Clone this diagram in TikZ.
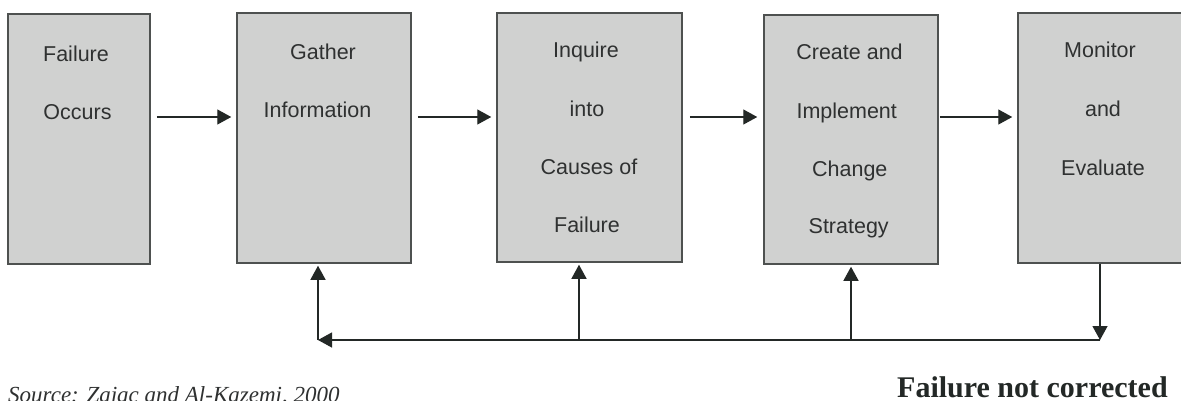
\documentclass[tikz,border=0pt]{standalone}
\usepackage{fontspec}
\setmainfont{Liberation Serif}
\setsansfont{Liberation Sans}
\usetikzlibrary{arrows.meta}
\definecolor{boxfill}{HTML}{D0D1D0}
\definecolor{boxline}{HTML}{4E5150}
\definecolor{txt}{HTML}{2F3131}
\definecolor{arrowc}{HTML}{232826}
\tikzset{
  stagebox/.style={draw=boxline, line width=1.5pt, fill=boxfill, rectangle, inner sep=0pt},
  lbl/.style={anchor=base, inner sep=0pt, text=txt, font=\sffamily\fontsize{21.5}{24}\selectfont},
  arr/.style={draw=arrowc, line width=1.3pt, -{Triangle[length=14pt,width=15pt]}},
}
\begin{document}
\begin{tikzpicture}[x=1pt,y=-1pt]
\clip (0,0) rectangle (1181,400);
\fill[white] (0,0) rectangle (1181,400);
% boxes
\node[stagebox, minimum width=142pt, minimum height=250pt] (b1) at (79,139) {};
\node[stagebox, minimum width=174pt, minimum height=250pt] (b2) at (324,138) {};
\node[stagebox, minimum width=185pt, minimum height=249pt] (b3) at (589.5,137.5) {};
\node[stagebox, minimum width=174pt, minimum height=249pt] (b4) at (851,139.5) {};
\node[stagebox, minimum width=168pt, minimum height=250pt] (b5) at (1102,138) {};
% labels
\node[lbl] (t1a) at (76,61) {Failure};
\node[lbl] (t1b) at (77.5,119) {Occurs};
\node[lbl] (t2a) at (323,59) {Gather};
\node[lbl] (t2b) at (317.5,117) {Information};
\node[lbl] (t3a) at (586,57) {Inquire};
\node[lbl] (t3b) at (587,116) {into};
\node[lbl] (t3c) at (589,174) {Causes of};
\node[lbl] (t3d) at (587,232) {Failure};
\node[lbl] (t4a) at (849.5,59) {Create and};
\node[lbl] (t4b) at (846.7,118) {Implement};
\node[lbl] (t4c) at (849.8,176) {Change};
\node[lbl] (t4d) at (848.7,233) {Strategy};
\node[lbl] (t5a) at (1100,57) {Monitor};
\node[lbl] (t5b) at (1103,116) {and};
\node[lbl] (t5c) at (1103,175) {Evaluate};
% forward arrows
\coordinate (ay) at (0,117);
\draw[arr, shorten <=6pt, shorten >=5pt] (b1.east |- ay) -- (b2.west |- ay);
\draw[arr, shorten <=6pt, shorten >=5pt] (b2.east |- ay) -- (b3.west |- ay);
\draw[arr, shorten <=7pt, shorten >=6pt] (b3.east |- ay) -- (b4.west |- ay);
\draw[arr, shorten <=1pt, shorten >=5pt] (b4.east |- ay) -- (b5.west |- ay);
% feedback loop
\coordinate (fbL) at (318,340);
\coordinate (fbR) at (1100,340);
\coordinate (fb3) at (579,340);
\coordinate (fb4) at (851,340);
\draw[arr] (b5.south -| fbR) -- (fbR);
\draw[arr] (fbR) -- (fbL);
\draw[arr, shorten >=2pt] (fbL) -- (b2.south -| fbL);
\draw[arr, shorten >=2pt] (fb3) -- (b3.south -| fb3);
\draw[arr, shorten >=2pt] (fb4) -- (b4.south -| fb4);
% captions
\node[anchor=base west, inner sep=0pt, text=txt, font=\rmfamily\itshape\fontsize{23}{26}\selectfont] (src) at (8,402) {Source: Zajac and Al-Kazemi, 2000};
\node[anchor=base west, inner sep=0pt, text=arrowc, font=\rmfamily\bfseries\fontsize{30}{34}\selectfont] (fnc) at (897,397) {Failure not corrected};
\end{tikzpicture}
\end{document}
